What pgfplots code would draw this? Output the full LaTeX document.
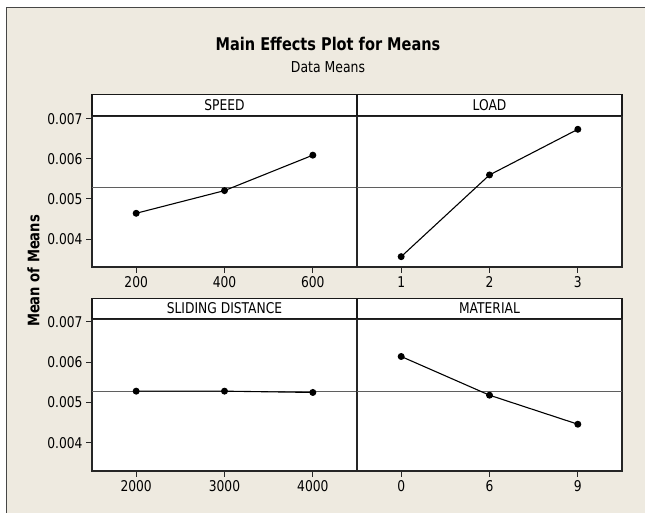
\documentclass[border=0pt]{standalone}
\usepackage{fontspec}
\setmainfont{DejaVu Sans}[FakeStretch=0.83]
\usepackage{pgfplots}
\pgfplotsset{compat=1.18}
\definecolor{bg}{RGB}{238,234,224}
\definecolor{framec}{RGB}{70,70,70}
\definecolor{refc}{RGB}{95,95,95}
\pgfplotsset{
  mep/.style={
    scale only axis, width=265pt,
    xmin=0.5, xmax=3.5, ymin=0.0033, ymax=0.00707,
    xtick={1,2,3},
    ytick={0.004,0.005,0.006,0.007},
    yticklabels={0.004,0.005,0.006,0.007},
    scaled y ticks=false,
    tick align=outside, major tick length=6pt,
    xtick pos=bottom, ytick pos=left,
    axis line style={line width=1.4pt, black!85},
    every tick/.style={line width=0.9pt, black!85},
    tick label style={font=\fontsize{14.8}{16}\selectfont, text=black},
    /pgf/number format/assume math mode=true,
    axis background/.style={fill=white},
    every axis title shift=0pt,
    title style={draw=black!90, line width=1.4pt, fill=white, at={(0.5,1)}, anchor=south,
      minimum width=265pt, minimum height=21pt, inner sep=0pt, yshift=0pt,
      font=\fontsize{14.8}{16}\selectfont},
  },
  refline/.style={refc, line width=0.9pt},
  dat/.style={black, line width=1.1pt, mark=*, mark size=2.9pt, mark options={fill=black}},
}
\begin{document}
\begin{tikzpicture}
\fill[white] (0pt,0pt) rectangle (645pt,513pt);
\useasboundingbox (0pt,0pt) rectangle (645pt,513pt);
\fill[bg] (6.5pt,0pt) rectangle (645pt,505.7pt);
\draw[framec, line width=1.5pt] (6.5pt,0pt) -- (6.5pt,505.7pt) -- (645pt,505.7pt);

\node[anchor=base, font=\fontsize{17.5}{20}\selectfont\bfseries] at (328pt,462.3pt) {Main Effects Plot for Means};
\node[anchor=base, font=\fontsize{15}{18}\selectfont] at (328pt,440.7pt) {Data Means};
\node[rotate=90, font=\fontsize{15.8}{18}\selectfont\bfseries] at (33.5pt,242pt) {Mean of Means};

% top-left
\begin{axis}[mep, at={(92pt,246pt)}, anchor=south west, height=151pt, title={SPEED},
  xticklabels={200,400,600}]
\addplot[refline] coordinates {(0.5,0.00529) (3.5,0.00529)};
\addplot[dat] coordinates {(1,0.004641) (2,0.005207) (3,0.006092)};
\end{axis}
% top-right
\begin{axis}[mep, at={(357pt,246pt)}, anchor=south west, height=151pt, title={LOAD},
  xticklabels={1,2,3}, ytick=\empty]
\addplot[refline] coordinates {(0.5,0.00529) (3.5,0.00529)};
\addplot[dat] coordinates {(1,0.003558) (2,0.005598) (3,0.006738)};
\end{axis}
% bottom-left
\begin{axis}[mep, at={(92pt,42pt)}, anchor=south west, height=152pt, title={SLIDING DISTANCE},
  title style={minimum height=20pt},
  xticklabels={2000,3000,4000}]
\addplot[refline] coordinates {(0.5,0.00528) (3.5,0.00528)};
\addplot[dat] coordinates {(1,0.00528) (2,0.00528) (3,0.005248)};
\end{axis}
% bottom-right
\begin{axis}[mep, at={(357pt,42pt)}, anchor=south west, height=152pt, title={MATERIAL},
  title style={minimum height=20pt},
  xticklabels={0,6,9}, ytick=\empty]
\addplot[refline] coordinates {(0.5,0.00528) (3.5,0.00528)};
\addplot[dat] coordinates {(1,0.00614) (2,0.00518) (3,0.00446)};
\end{axis}
\end{tikzpicture}
\end{document}
